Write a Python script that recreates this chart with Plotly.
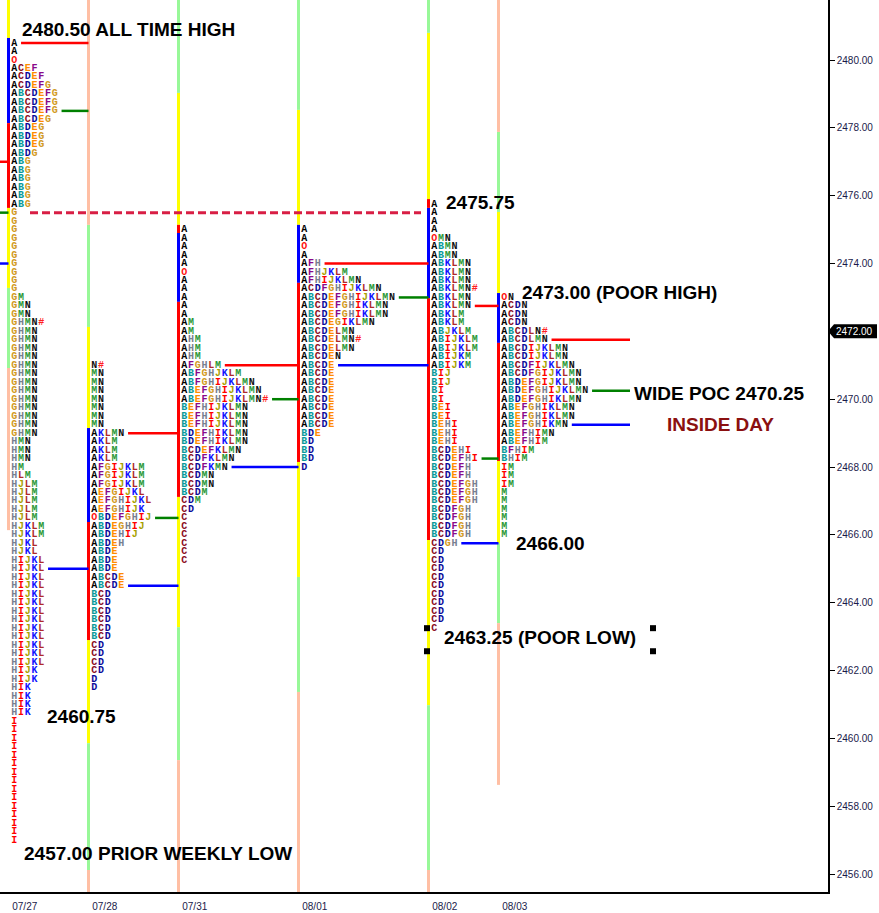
import plotly.graph_objects as go

# ---------------- data ----------------
dates = ["07/27", "07/28", "07/31", "08/01", "08/02", "08/03"]
tops = [2480.50, 2471.00, 2475.00, 2475.00, 2475.75, 2473.00]
TICK = 0.25

p0727 = (["A", "A", "O", "ACEF", "ACDEF", "ACDEFG", "ABCDEFG", "ABCDEFG", "ABCDEFG",
          "ABCDEG", "ABDEG", "ABDEG", "ABDEG", "ABDG"] + ["ABG"] * 6 + ["G"] * 10 +
         ["GM", "GMN", "GMN", "GHMN#"] + ["GHMN"] * 13 +
         ["HMN", "HMN", "HMN", "HM", "HLM"] + ["HJLM"] * 5 + ["HJKLM"] * 2 + ["HJKL"] * 2 +
         ["HIJKL"] * 13 + ["HIJK"] * 2 + ["HIK"] * 4 + ["I"] * 15)
p0728 = (["N#"] + ["MN"] * 7 + ["AKLMN", "AKLM", "AKLM", "AKLM"] + ["AFGIJKLM"] * 3 +
         ["AEFGIJKL", "AEFGHIJKL", "AEFGHIJK", "OBDEFGHIJ", "ABDEGHIJ", "ABDEHIJ", "ABDEH",
          "ABDE", "ABDE", "ABDE", "ABCDE", "ABCDE"] + ["BCD"] * 6 + ["CD"] * 4 + ["D", "D"])
p0731 = (["A"] * 5 + ["O"] + ["A"] * 5 + ["AM", "AM", "AHM", "AHM", "AHM", "AFGHLM",
         "ABFGHJKLM", "ABFGHIJKLMN", "ABEFGHIJKLMN", "ABEFGHIJKLMN#"] + ["BEFHIJKLMN"] * 3 +
         ["BDEFHIKLMN"] * 2 + ["BCDEFKLMN", "BCDFKLMN", "BCDFKMN", "BCDMN", "BCDMN", "BCDM",
                              "CDM", "CD"] + ["C"] * 6)
p0801 = (["A", "A", "O", "A", "AFH", "AFHJKLM", "AFHIJKLMN", "ACDFGHIJKLMN", "ABCDEFGHIJKLMN",
          "ABCDEFGHIKLMN", "ABCDEFGHIKLMN", "ABCDEGIKLMN", "ABCDELMN", "ABCDELMN#", "ABCDELMN",
          "ABCDEN"] + ["ABCDE"] * 8 + ["BDE", "BD", "BD", "BD", "D"])
p0802 = (["A"] * 4 + ["OMN", "ABMN", "ABMN", "ABKLMN", "ABKLMN", "ABKLMN", "ABKLMN#", "ABKLMN",
         "ABKLMN", "ABKLM", "ABKLM", "ABJKLM", "ABIJKLM", "ABIJKLM", "ABIJKM", "ABIJKM",
         "BIJ", "BIJ", "BI", "BI", "BEI", "BEI", "BEHI", "BEHI", "BEHI", "BCDEHI", "BCDEFHI",
         "BCDEFH", "BCDEFH"] + ["BCDEFGH"] * 3 + ["BCDFGH"] * 4 + ["CDGH"] + ["CD"] * 9 + ["C"])
p0803 = (["ON", "ACDN", "ACDN", "ACDN", "ABCDLN#", "ABCDLMN", "ABCDIJKLMN", "ABCDIJKLMN",
          "ABCDFIJKLMN", "ABCDFGIJKLMN", "ABDEFGIJKLMN", "ABDEFGHIJKLMN", "ABDEFGHIKLMN",
          "ABEFGHIKLMN", "ABEFGHIKLMN", "ABEFGHIKMN", "ABEFHIMN", "ABEFHIM", "BFHIM", "BHIM",
          "IM", "IM", "IM"] + ["M"] * 6)
profiles = [p0727, p0728, p0731, p0801, p0802, p0803]

vah = [2480.50, 2469.00, 2471.00, 2474.00, 2472.75, 2471.75]
poc = [2478.50, 2466.50, 2470.00, 2473.00, 2468.25, 2470.25]
val = [2465.00, 2464.50, 2468.00, 2471.00, 2465.75, 2469.25]
prior_levels = {"vah": 2477.00, "poc": 2475.50, "val": 2474.00}

band_edges = [
    [2482.0, 2480.65, 2478.14, 2475.64, 2473.28, 2470.92, 2466.14],
    [2482.0, 2475.14, 2472.13, 2469.15, 2466.38, 2462.90, 2459.86, 2456.12, 2455.0],
    [2482.0, 2479.03, 2475.14, 2474.90, 2472.87, 2467.12, 2463.28, 2459.36, 2455.0],
    [2482.0, 2478.53, 2475.14, 2473.43, 2468.15, 2464.76, 2461.37, 2455.0],
    [2482.0, 2480.80, 2475.90, 2475.64, 2472.98, 2465.85, 2460.98, 2456.12, 2455.0],
    [2482.0, 2477.88, 2475.52, 2473.13, 2471.66, 2468.18, 2465.76, 2463.40, 2458.63],
]
band_codes = [
    ["Y", "B", "R", "Y", "G", "S"],
    ["S", "G", "Y", "B", "R", "Y", "G", "S"],
    ["G", "Y", "R", "B", "R", "Y", "G", "S"],
    ["G", "Y", "B", "R", "Y", "G", "S"],
    ["G", "Y", "R", "B", "R", "Y", "G", "S"],
    ["S", "G", "Y", "B", "R", "Y", "G", "S"],
]

ath_level = 2480.50
weekly_low = 2457.00
dashed_level = 2475.50

y_ticks = [2456, 2458, 2460, 2462, 2464, 2466, 2468, 2470, 2474, 2476, 2478, 2480]
last_price = 2472.00

# ---------------- layout constants ----------------
Y_RANGE = [2455.472, 2481.769]
session_x = [8.5, 88.5, 178.5, 298.5, 428.5, 498.5]
last_line_end = 630
PITCH = 6.75
OFF = 5.8

letter_colors = {
    "A": "#000000", "B": "#0a9a9a", "C": "#8b0a1a", "D": "#0a0a9a", "E": "#ff8c00",
    "F": "#8a0a8a", "G": "#d29a1e", "H": "#778090", "I": "#ff0000", "J": "#a8a000",
    "K": "#1010ff", "L": "#b02a2a", "M": "#2e9a3a", "N": "#101010", "O": "#ff1010",
    "#": "#ff2020",
}
band_colors = {"Y": "#ffff00", "B": "#0000ff", "R": "#ff0000", "G": "#98f898", "S": "#ffbfa4"}

fig = go.Figure()

# vertical range bars
for code, col in band_colors.items():
    xs, ys = [], []
    for k, sx in enumerate(session_x):
        e = band_edges[k]
        for i, c in enumerate(band_codes[k]):
            if c == code:
                xs += [sx, sx, None]
                ys += [e[i], e[i + 1], None]
    fig.add_trace(go.Scatter(x=xs, y=ys, mode="lines", line=dict(color=col, width=3),
                             hoverinfo="skip", showlegend=False))

# TPO letters
pts = {}
for k, rows in enumerate(profiles):
    for r, row in enumerate(rows):
        price = tops[k] - r * TICK
        for j, ch in enumerate(row):
            pts.setdefault(ch, ([], []))
            pts[ch][0].append(session_x[k] + OFF + j * PITCH)
            pts[ch][1].append(price)
for ch, (xs, ys) in pts.items():
    fig.add_trace(go.Scatter(x=xs, y=ys, mode="text", text=[ch] * len(xs),
                             textposition="middle center",
                             textfont=dict(family="Liberation Mono", size=10,
                                           color=letter_colors[ch], weight="bold"),
                             hoverinfo="skip", showlegend=False))


def row_len(k, price):
    idx = int(round((tops[k] - price) / TICK))
    return len(profiles[k][idx])


# value area / POC lines
for levels, col in ((vah, "#ff0000"), (poc, "#008000"), (val, "#0000ff")):
    xs, ys = [], []
    for k, lv in enumerate(levels):
        x0 = session_x[k] + OFF + row_len(k, lv) * PITCH
        x1 = session_x[k + 1] if k + 1 < len(session_x) else last_line_end
        xs += [x0, x1, None]
        ys += [lv, lv, None]
    fig.add_trace(go.Scatter(x=xs, y=ys, mode="lines", line=dict(color=col, width=2.5),
                             hoverinfo="skip", showlegend=False))

# prior session levels ending at first bar
for key, col in (("vah", "#ff0000"), ("poc", "#008000"), ("val", "#0000ff")):
    fig.add_trace(go.Scatter(x=[-20, session_x[0]], y=[prior_levels[key]] * 2, mode="lines",
                             line=dict(color=col, width=2.5), hoverinfo="skip", showlegend=False))

# dashed reference line
fig.add_trace(go.Scatter(x=[session_x[0] + 21.5, session_x[4] - 7.5], y=[dashed_level] * 2,
                         mode="lines", line=dict(color="#d81e44", width=3, dash="8px,4px"),
                         hoverinfo="skip", showlegend=False))

# selection handles of the poor low label
fig.add_trace(go.Scatter(x=[427, 427, 653, 653], y=[2463.25, 2462.57, 2463.25, 2462.57],
                         mode="markers", marker=dict(symbol="square", size=6, color="black"),
                         hoverinfo="skip", showlegend=False))

# annotations
lab_font = dict(family="Liberation Sans", size=19, color="black", weight="bold")
labels = [
    ("2480.50 ALL TIME HIGH", 20, ath_level, 14, "black"),
    ("2475.75", 444, 2475.75, 2, "black"),
    ("2473.00 (POOR HIGH)", 520, 2473.00, 5, "black"),
    ("WIDE POC 2470.25", 632, 2470.25, -3, "black"),
    ("INSIDE DAY", 665, 2469.25, 0, "#8b1010"),
    ("2466.00", 514, 2466.00, -9, "black"),
    ("2463.25 (POOR LOW)", 442, 2463.25, -9, "black"),
    ("2460.75", 44.5, 2460.75, -3.5, "black"),
    ("2457.00 PRIOR WEEKLY LOW", 21.5, weekly_low, -13, "black"),
]
for txt, x, y, ys, col in labels:
    f = dict(lab_font)
    f["color"] = col
    fig.add_annotation(x=x, y=y, xref="x", yref="y", text=txt, showarrow=False,
                       xanchor="left", yanchor="middle", yshift=ys, font=f)

# last price tag on the axis (paper coordinates so it is not clipped)
py = (last_price - Y_RANGE[0]) / (Y_RANGE[1] - Y_RANGE[0])
ph = 7 / 892
fig.add_shape(type="path", xref="paper", yref="paper", layer="above",
              path=(f"M 1.0 {py} L {1 + 6/828} {py + ph} L {1 + 49/828} {py + ph} "
                    f"L {1 + 49/828} {py - ph} L {1 + 6/828} {py - ph} Z"),
              fillcolor="black", line=dict(width=0))
fig.add_annotation(x=1, y=py, xref="paper", yref="paper", text=f"{last_price:.2f}",
                   showarrow=False, xanchor="left", xshift=6, yanchor="middle",
                   font=dict(family="Liberation Sans", size=10, color="white"))

fig.update_layout(
    width=879, height=913, autosize=False,
    margin=dict(l=0, r=51, t=0, b=21),
    paper_bgcolor="white", plot_bgcolor="white",
    showlegend=False, hovermode=False,
    xaxis=dict(range=[0, 828], showgrid=False, zeroline=False, showline=True,
               linecolor="black", linewidth=1.5, tickvals=session_x, ticktext=dates,
               ticks="", ticklabelposition="outside right", ticklabelstandoff=4,
               ticklabelshift=3,
               tickfont=dict(family="Liberation Sans", size=10, color="#1a1a4a"),
               fixedrange=True),
    yaxis=dict(range=Y_RANGE, side="right", showgrid=False, zeroline=False,
               showline=True, linecolor="black", linewidth=1.5, tickvals=y_ticks,
               ticktext=[f"{v:.2f}" for v in y_ticks], ticks="outside", ticklen=5,
               tickcolor="black",
               tickfont=dict(family="Liberation Sans", size=10, color="#1a1a4a"),
               fixedrange=True),
)

fig.write_html("out.html", config={"displayModeBar": False})

# remove the browser's default page margin so the figure sits at the window origin
with open("out.html", "r", encoding="utf-8") as fh:
    html = fh.read()
html = html.replace("<head>", "<head><style>html,body{margin:0;padding:0;overflow:hidden;}</style>", 1)
with open("out.html", "w", encoding="utf-8") as fh:
    fh.write(html)
